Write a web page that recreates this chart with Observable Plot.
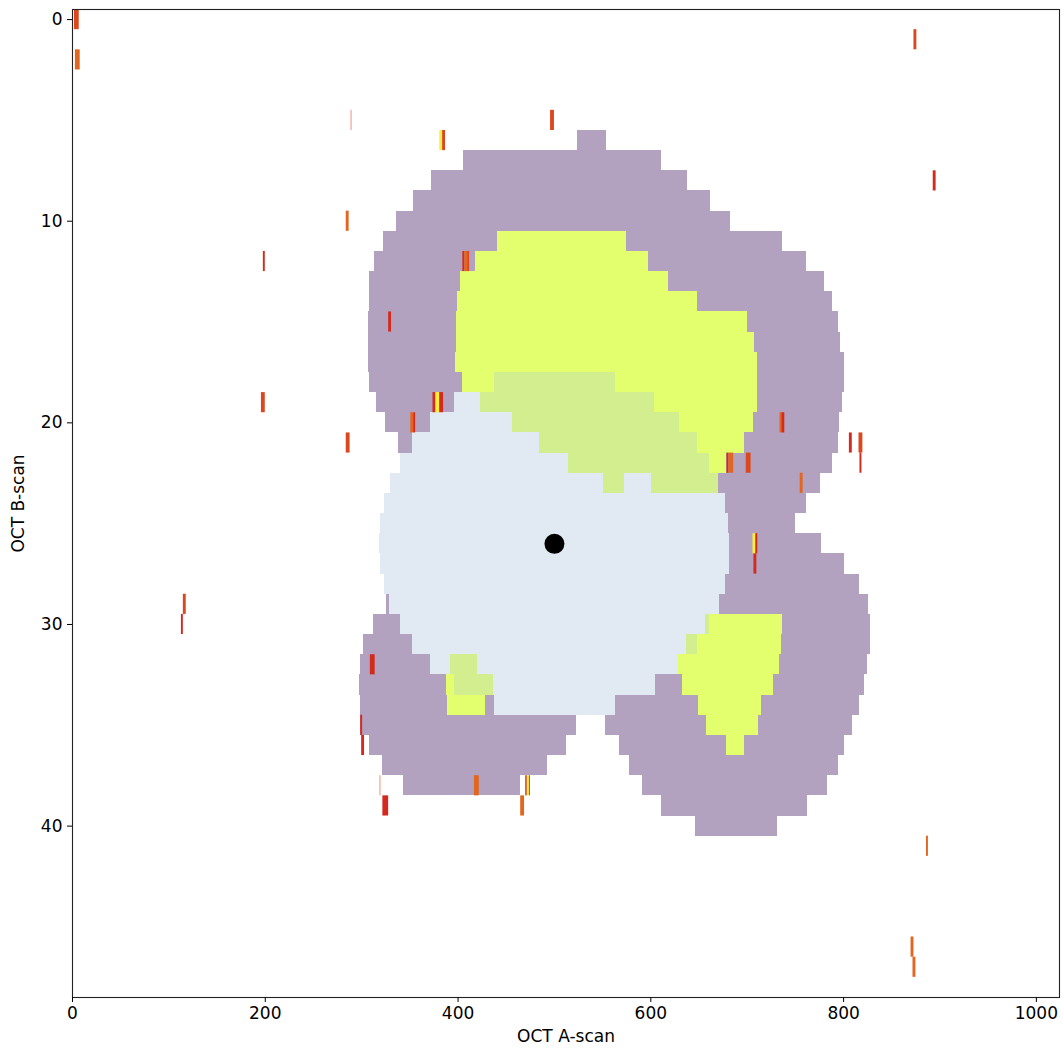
<!DOCTYPE html>
<html>
<head>
<meta charset="utf-8">
<script src="https://cdn.jsdelivr.net/npm/d3@7"></script>
<script src="https://cdn.jsdelivr.net/npm/@observablehq/plot@0.6"></script>
<style>
  html, body { margin: 0; padding: 0; background: #ffffff; }
  #chart svg { display: block; }
</style>
</head>
<body>
<div id="chart"></div>
<script>
// ---- Data: [B-scan row, A-scan start, A-scan end] per region class ----
const purpleSegs = [
  [6, 524, 554], [7, 406, 611], [8, 372, 638], [9, 354, 662], [10, 336, 683],
  [11, 323, 737], [12, 313, 762], [13, 308, 780], [14, 308, 789], [15, 307, 795],
  [16, 307, 797], [17, 307, 801], [18, 308, 801], [19, 315, 799], [20, 325, 796],
  [21, 338, 795], [22, 678, 788], [23, 670, 776], [24, 677, 762], [25, 681, 750],
  [26, 682, 777], [27, 682, 801], [28, 677, 816], [29, 326, 330], [29, 671, 826],
  [30, 312, 340], [30, 737, 828], [31, 302, 353], [31, 736, 828], [32, 299, 371],
  [32, 733, 825], [33, 298, 822], [34, 299, 817], [35, 299, 523], [35, 553, 809],
  [36, 308, 512], [36, 568, 801], [37, 322, 493], [37, 578, 795], [38, 343, 465],
  [38, 591, 783], [39, 611, 763], [40, 646, 731]
];
const blueSegs = [
  [19, 396, 423], [20, 371, 456], [21, 353, 485], [22, 340, 515], [23, 330, 551],
  [23, 573, 601], [24, 324, 677], [25, 320, 681], [26, 319, 682], [27, 320, 682],
  [28, 324, 677], [29, 329, 671], [30, 340, 657], [31, 353, 637], [32, 371, 629],
  [33, 437, 605], [34, 438, 563]
];
const yellowSegs = [
  [11, 441, 575], [12, 418, 598], [13, 403, 618], [14, 399, 648], [15, 398, 700],
  [16, 398, 708], [17, 397, 711], [18, 405, 711], [19, 604, 711], [20, 630, 707],
  [21, 648, 697], [22, 661, 678], [30, 661, 737], [31, 648, 736], [32, 629, 733],
  [33, 388, 396], [33, 633, 727], [34, 389, 428], [34, 649, 715], [35, 658, 712],
  [36, 679, 697]
];
const greenSegs = [
  [18, 438, 563], [19, 423, 604], [20, 456, 630], [21, 485, 648], [22, 515, 661],
  [23, 551, 573], [23, 601, 670], [30, 657, 661], [31, 637, 648], [32, 392, 420],
  [33, 396, 437]
];
// Small marks: [row, start, end, tone]
const tickSegs = [
  [0, 2, 7, "vermilion"], [1, 873, 876, "vermilion"], [2, 3, 8, "orange"],
  [5, 289, 290, "pink"], [5, 496, 500, "vermilion"],
  [6, 381, 384, "yellow"], [6, 384, 387, "vermilion"],
  [8, 893, 896, "red"], [10, 284, 287, "orange"],
  [12, 198, 200, "red"], [12, 405, 407, "red"], [12, 407, 410, "orange"], [12, 410, 412, "vermilion"],
  [15, 328, 331, "red"],
  [19, 196, 200, "vermilion"], [19, 374, 377, "red"], [19, 377, 381, "yellow"], [19, 381, 385, "red"],
  [20, 351, 354, "orange"], [20, 354, 356, "red"], [20, 734, 736, "orange"], [20, 736, 739, "red"],
  [21, 284, 288, "vermilion"], [21, 806, 809, "red"], [21, 816, 820, "vermilion"],
  [22, 679, 681, "red"], [22, 681, 686, "orange"], [22, 699, 704, "vermilion"], [22, 817, 819, "red"],
  [23, 755, 758, "orange"],
  [26, 706, 709, "yellow"], [26, 709, 711, "red"], [27, 707, 710, "red"],
  [29, 115, 118, "vermilion"], [30, 113, 115, "red"],
  [32, 309, 314, "red"], [35, 299, 301, "red"], [36, 300, 303, "red"],
  [38, 319, 320, "pink"], [38, 417, 422, "orange"], [38, 470, 472, "orange"], [38, 472, 474, "yellow"], [38, 474, 475, "red"],
  [39, 322, 328, "red"], [39, 465, 469, "orange"],
  [41, 886, 888, "orange"], [46, 870, 873, "orange"], [47, 872, 875, "orange"]
];
const fovea = [[500, 26]];
const xTicks = [0, 200, 400, 600, 800, 1000];
const yTicks = [0, 10, 20, 30, 40];
const xLabel = "OCT A-scan";
const yLabel = "OCT B-scan";

// ---- Styles ----
const toneColors = {red: "#d42a1e", vermilion: "#db471f", orange: "#e2661f", yellow: "#f6f23a", pink: "#ef8c7c"};
const rectOpts = (fill) => ({
  x1: d => d[1], x2: d => d[2],
  y1: d => d[0] - 0.5, y2: d => d[0] + 0.5,
  fill, shapeRendering: "crispEdges"
});

const chart = Plot.plot({
  width: 1062,
  height: 1051,
  marginLeft: 72,
  marginRight: 3,
  marginTop: 9,
  marginBottom: 54,
  x: {domain: [0, 1024]},
  y: {domain: [-0.5, 48.5], reverse: true},
  style: {fontFamily: "'DejaVu Sans', sans-serif", fontSize: "17px", color: "black", background: "white"},
  marks: [
    Plot.rect(purpleSegs, rectOpts("#b3a2bf")),
    Plot.rect(blueSegs, rectOpts("#e1eaf3")),
    Plot.rect(yellowSegs, rectOpts("#e4ff6e")),
    Plot.rect(greenSegs, rectOpts("#d3ee8e")),
    Plot.rect(tickSegs, {
      x1: d => d[1], x2: d => d[2],
      y1: d => d[0] - 0.5, y2: d => d[0] + 0.5,
      fill: d => toneColors[d[3]]
    }),
    Plot.dot(fovea, {x: d => d[0], y: d => d[1], r: 10, fill: "black", stroke: "none"}),
    Plot.frame({stroke: "#222", strokeWidth: 1.1}),
    Plot.axisX({ticks: xTicks, tickSize: 5, tickPadding: 4, label: null, fontSize: 17, tickFormat: d3.format("d")}),
    Plot.axisY({ticks: yTicks, tickSize: 5, tickPadding: 5, label: null, fontSize: 17, tickFormat: d3.format("d")}),
    Plot.text([xLabel], {frameAnchor: "bottom", dy: 44, fontSize: 17, textAnchor: "middle"}),
    Plot.text([yLabel], {frameAnchor: "left", dx: -54, rotate: -90, fontSize: 17, textAnchor: "middle"})
  ]
});
document.getElementById("chart").appendChild(chart);
</script>
</body>
</html>
